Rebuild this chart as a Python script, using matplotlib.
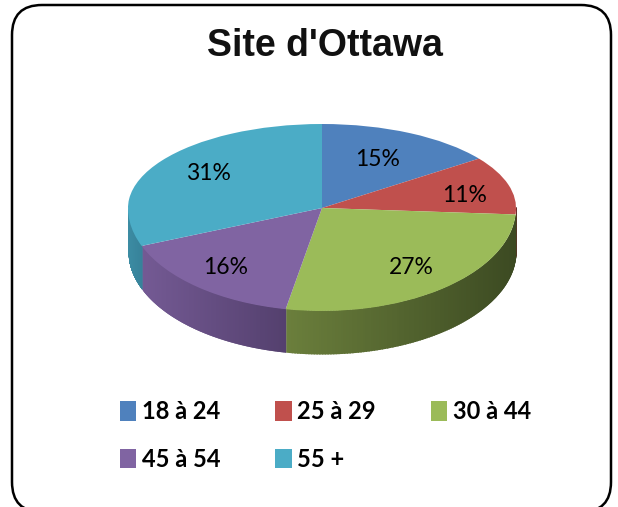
import numpy as np
import matplotlib
matplotlib.use('Agg')
import matplotlib.pyplot as plt
from matplotlib.patches import FancyBboxPatch

W, H = 618, 507

title = "Site d'Ottawa"
categories = ['18 à 24', '25 à 29', '30 à 44', '45 à 54', '55 +']
values = [15, 11, 27, 16, 31]
colors = ['#4F81BD', '#C0504D', '#9BBB59', '#8064A2', '#4BACC6']
side_left = ['#3A5F8C', '#8E3B39', '#6B7F3C', '#745A94', '#3C8CA3']
side_right = ['#2C4A6E', '#6E2E2C', '#3C4A22', '#54406E', '#37829A']
label_x = [378, 465, 411, 226, 208]
label_y = [160, 195, 268, 268, 174]

# pie ellipse in pixels, the front half is stretched a bit (perspective)
cx, cy = 322, 208
rx, ry_back, ry_front = 194, 84, 103
depth = 43


def px_axes(x0, y0, x1, y1, zorder):
    return fig.add_axes([x0 / W, 1 - y1 / H, (x1 - x0) / W, (y1 - y0) / H], zorder=zorder)


fig = plt.figure(figsize=(W / 100, H / 100), dpi=100, facecolor='white')

back = px_axes(0, 0, W, H, 0)
back.set_xlim(0, W)
back.set_ylim(H, 0)
back.axis('off')
back.add_patch(FancyBboxPatch((42, 35), 539, 447, boxstyle='round,pad=30,rounding_size=30',
                              fc='white', ec='black', lw=1.8))

# side wall of the pie, drawn in thin strips to get the shading
edges = np.cumsum([0] + values) / sum(values) * 2 * np.pi
for i in range(len(values)):
    a0, a1 = max(edges[i], np.pi / 2), min(edges[i + 1], 3 * np.pi / 2)
    if a1 <= a0:
        continue
    xs = np.sort(cx + rx * np.sin(np.linspace(a0, a1, 120)))
    x_low, x_high = xs.min(), xs.max()
    c0 = np.array(matplotlib.colors.to_rgb(side_left[i]))
    c1 = np.array(matplotlib.colors.to_rgb(side_right[i]))
    for j in range(len(xs) - 1):
        xa, xb = xs[j], xs[j + 1]
        t = ((xa + xb) / 2 - x_low) / (x_high - x_low)
        # strips overlap to the right so no seams show
        seg = np.array([xa, min(xb + 1.5, x_high)])
        top = cy + ry_front * np.sqrt(np.clip(1 - ((seg - cx) / rx) ** 2, 0, 1))
        back.fill_between(seg, top - 1, top + depth, color=c0 + (c1 - c0) * t, lw=0)

# top face: same pie in two axes, back half and front half
upper = px_axes(cx - rx, cy - ry_back, cx + rx, cy, 1)
lower = px_axes(cx - rx, cy, cx + rx, cy + ry_front, 1)
for ax, ylim in ((upper, (0, 1)), (lower, (-1, 0))):
    wedges, _ = ax.pie(values, colors=colors, startangle=90, counterclock=False, radius=1)
    ax.set_aspect('auto')
    ax.set_xlim(-1, 1)
    ax.set_ylim(*ylim)
    for w in wedges:
        w.set_clip_on(True)
        w.set_clip_path(ax.patch)

front = px_axes(0, 0, W, H, 2)
front.set_xlim(0, W)
front.set_ylim(H, 0)
front.axis('off')
front.text(325, 46, title, ha='center', va='center', fontsize=27, fontweight='bold',
           family='Liberation Sans', color='#111111')
for x, y, v in zip(label_x, label_y, values):
    front.text(x, y, '%d%%' % v, ha='center', va='center', fontsize=16.5, family='Lato', color='black')

# ncol fills by column so reorder to read row by row
order = [0, 3, 1, 4, 2]
leg = front.legend([wedges[i] for i in order], [categories[i] for i in order], ncol=3,
                   loc='upper left', bbox_to_anchor=(120 / W, 1 - 400 / H), frameon=False,
                   prop={'family': 'Lato', 'weight': 'bold', 'size': 17},
                   handlelength=0.68, handleheight=0.9, handletextpad=0.25,
                   columnspacing=2.33, labelspacing=1.05, borderpad=0, borderaxespad=0)

plt.savefig('out.png', dpi=100)
